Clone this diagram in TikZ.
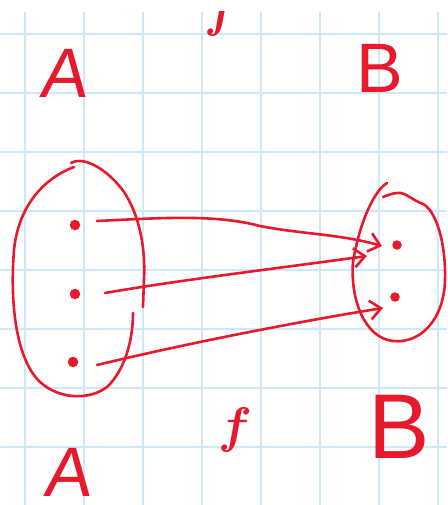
\documentclass[tikz,border=0pt]{standalone}
\usepackage{fontspec}
\setmainfont{Liberation Sans}
\usetikzlibrary{arrows.meta}
\definecolor{ink}{HTML}{E8192C}
\definecolor{gridc}{HTML}{CFE8F8}
\tikzset{
  pen/.style={draw=ink, line width=2.6pt, line cap=round, line join=round},
  arr/.style={pen, -{Straight Barb[length=11pt, width=19pt, line width=2.6pt]}},
  dotn/.style={circle, fill=ink, inner sep=0pt, minimum size=10.5pt},
  lbl/.style={text=ink, inner sep=0pt},
  flbl/.style={lbl, font=\boldmath, scale=5},
}
\begin{document}
\begin{tikzpicture}[x=1pt, y=-1pt]
\useasboundingbox (0,0) rectangle (447,505);
\fill[white] (0,0) rectangle (447,505);
% grid
\begin{scope}
\clip (0,12) rectangle (447,505);
\foreach \gx in {25,84,143,202,261,320,379,438} \draw[gridc, line width=1.2pt] (\gx,12) -- (\gx,505);
\foreach \gy in {34,93,152,211,270,329,388,447} \draw[gridc, line width=1.2pt] (0,\gy) -- (447,\gy);
\node[flbl] (ftop) at (221,14) {$f$};
\end{scope}
% labels
\node[lbl, font=\fontsize{70}{74}\selectfont, xslant=0.12] (Atop) at (66,73) {A};
\node[lbl, font=\fontsize{70}{74}\selectfont] (Btop) at (380,68) {B};
\node[flbl] (fbot) at (235,430) {$f$};
\node[lbl, font=\fontsize{70}{74}\selectfont, xslant=0.12] (Abot) at (70,472) {A};
\node[lbl, font=\fontsize{92}{96}\selectfont] (Bbot) at (399,427) {B};
% left set
\draw[pen] (71,163) .. controls (85,155) and (110,172) .. (124,192)
  .. controls (136,210) and (146,240) .. (144,280) -- (143,307);
\draw[pen] (133,313) .. controls (133,340) and (125,370) .. (107,387)
  .. controls (90,400) and (60,400) .. (40,382)
  .. controls (15,358) and (10,300) .. (14,250)
  .. controls (18,210) and (40,180) .. (74,167);
% right set
\draw[pen] (387,183) .. controls (375,190) and (360,220) .. (353,262)
  .. controls (350,300) and (365,338) .. (393,341)
  .. controls (420,344) and (444,320) .. (445,280)
  .. controls (446,240) and (435,210) .. (423,204)
  .. controls (412,200) and (405,192) .. (398,193)
  .. controls (392,193) and (386,196) .. (383,197);
% dots
\node[dotn] (a1) at (75,225) {};
\node[dotn] (a2) at (75,294) {};
\node[dotn] (a3) at (73,362) {};
\node[dotn, minimum size=9.5pt] (b1) at (397,245) {};
\node[dotn, minimum size=9.5pt] (b2) at (395,297) {};
% arrows
\coordinate (s1) at (97,221);
\coordinate (s2) at (105,293);
\coordinate (s3) at (97,365);
\coordinate (t1) at (382,246);
\coordinate (t2) at (367,256);
\coordinate (t3) at (383,308);
\draw[arr] (s1) .. controls (160,218) and (215,214) .. (260,226)
  .. controls (300,234) and (340,234) .. (t1);
\draw[arr] (s2) .. controls (180,280) and (280,268) .. (t2);
\draw[arr] (s3) .. controls (180,345) and (290,323) .. (t3);
\end{tikzpicture}
\end{document}
